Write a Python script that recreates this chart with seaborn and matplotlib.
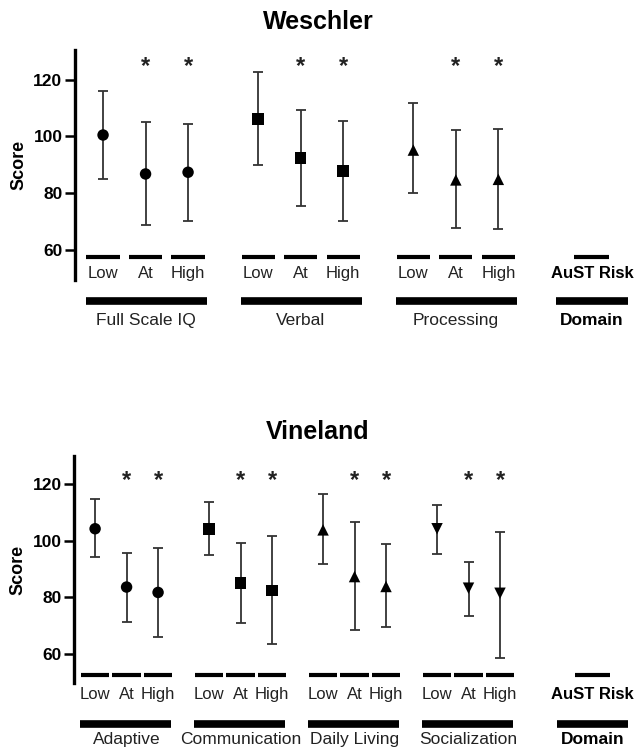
import numpy as np
import pandas as pd
import seaborn as sns
import matplotlib.pyplot as plt

# ---- data ----
risk_levels = ["Low", "At", "High"]

weschler_domains = ["Full Scale IQ", "Verbal", "Processing"]
weschler_mean = [100.5, 86.8, 87.4, 106.2, 92.4, 87.8, 95.2, 84.7, 84.9]
weschler_upper = [116.1, 105.0, 104.5, 122.6, 109.4, 105.6, 111.7, 102.4, 102.7]
weschler_lower = [85.0, 68.9, 70.1, 90.1, 75.6, 70.4, 80.0, 67.7, 67.4]
weschler_signif = [False, True, True, False, True, True, False, True, True]

vineland_domains = ["Adaptive", "Communication", "Daily Living", "Socialization"]
vineland_mean = [104.2, 83.6, 81.7, 104.1, 85.0, 82.4, 103.8, 87.3, 83.8, 104.2, 83.2, 81.4]
vineland_upper = [114.7, 95.8, 97.4, 113.5, 99.1, 101.7, 116.3, 106.7, 98.8, 112.7, 92.4, 103.0]
vineland_lower = [94.2, 71.2, 65.9, 95.0, 71.0, 63.4, 91.9, 68.5, 69.6, 95.4, 73.5, 58.7]
vineland_signif = [False, True, True, False, True, True, False, True, True, False, True, True]

sns.set_style("ticks")
plt.rcParams["font.family"] = ["Liberation Sans", "DejaVu Sans"]
plt.rcParams["text.color"] = "black"
plt.rcParams["axes.labelcolor"] = "black"
plt.rcParams["ytick.color"] = "black"


def make_frame(domains, mean, lower, upper, signif, gap):
    rows = []
    for g, dom in enumerate(domains):
        for i, lev in enumerate(risk_levels):
            k = g * 3 + i
            rows.append({"domain": dom, "level": lev, "x": g * gap + i,
                         "group_x": g * gap, "mean": mean[k], "lower": lower[k],
                         "upper": upper[k], "signif": signif[k]})
    return pd.DataFrame(rows)


def draw_panel(ax, df, markers, gap, lay):
    ax.errorbar(df["x"], df["mean"],
                yerr=[df["mean"] - df["lower"], df["upper"] - df["mean"]],
                fmt="none", ecolor="#333333", elinewidth=1.3, capsize=3.6,
                capthick=1.3, zorder=2)
    sns.scatterplot(data=df, x="x", y="mean", style="domain", markers=markers,
                    color="black", s=68, edgecolor="black", linewidth=0,
                    legend=False, ax=ax, zorder=3)

    for _, r in df.iterrows():
        if r["signif"]:
            ax.text(r["x"], lay["star_y"], "*", ha="center", va="center",
                    fontsize=17, fontweight="bold", color="#222222", clip_on=False)
        ax.plot([r["x"] - lay["dash_w"], r["x"] + lay["dash_w"]],
                [lay["dash_y"]] * 2, color="black", lw=3, solid_capstyle="butt",
                clip_on=False)
        ax.text(r["x"], lay["lev_y"], r["level"], ha="center", va="center",
                fontsize=12, color="#222222", clip_on=False)

    for dom, sub in df.groupby("domain", sort=False):
        x0 = sub["group_x"].iloc[0]
        ax.plot([x0 + lay["bar_l"], x0 + 2 + lay["bar_r"]], [lay["bar_y"]] * 2,
                color="black", lw=5.5, solid_capstyle="butt", clip_on=False)
        ax.text(x0 + 1, lay["dom_y"], dom, ha="center", va="center",
                fontsize=12.5, color="#222222", clip_on=False)

    # AuST risk / Domain key column
    kx = lay["key_x"]
    ax.plot([kx - lay["key_dash"], kx + lay["key_dash"]], [lay["dash_y"]] * 2,
            color="black", lw=3, solid_capstyle="butt", clip_on=False)
    ax.text(kx, lay["lev_y"], "AuST Risk", ha="center", va="center",
            fontsize=12, fontweight="bold", clip_on=False)
    ax.plot([kx - lay["key_bar"], kx + lay["key_bar"]], [lay["bar_y"]] * 2,
            color="black", lw=5.5, solid_capstyle="butt", clip_on=False)
    ax.text(kx, lay["dom_y"], "Domain", ha="center", va="center",
            fontsize=12.5, fontweight="bold", clip_on=False)

    ax.set_xlim(lay["xlim"])
    ax.set_ylim(lay["ylim"])
    ax.set_yticks([60, 80, 100, 120])
    ax.set_xticks([])
    ax.set_xlabel("")
    ax.set_ylabel("Score", fontsize=13, fontweight="bold", labelpad=4)
    for s in ["top", "right", "bottom"]:
        ax.spines[s].set_visible(False)
    ax.spines["left"].set_linewidth(2.4)
    ax.spines["left"].set_color("black")
    ax.tick_params(axis="y", length=7, width=1.8, labelsize=12.5, pad=2,
                   color="black", labelcolor="black")
    for t in ax.get_yticklabels():
        t.set_fontweight("bold")


W, H = 635, 750
fig = plt.figure(figsize=(W / 100, H / 100), dpi=100)

# Weschler panel
gap_w = 3.65
ax1 = fig.add_axes([75 / W, 1 - 280 / H, 550 / W, 230 / H])
dfw = make_frame(weschler_domains, weschler_mean, weschler_lower, weschler_upper,
                 weschler_signif, gap_w)
draw_panel(ax1, dfw, ["o", "s", "^"], gap_w, {
    "star_y": 124.6, "dash_y": 57.7, "dash_w": 0.39, "lev_y": 51.8,
    "bar_y": 42.2, "bar_l": -0.4, "bar_r": 0.45, "dom_y": 35.4,
    "key_x": 11.5, "key_dash": 0.41, "key_bar": 0.84,
    "xlim": (-0.66, 12.28), "ylim": (49.5, 130.4)})
fig.text(318 / W, 1 - 22 / H, "Weschler", ha="center", va="center",
         fontsize=18, fontweight="bold")

# Vineland panel
gap_v = 3.62
ax2 = fig.add_axes([74 / W, 1 - 683 / H, 551 / W, 227 / H])
dfv = make_frame(vineland_domains, vineland_mean, vineland_lower, vineland_upper,
                 vineland_signif, gap_v)
draw_panel(ax2, dfv, ["o", "s", "^", "v"], gap_v, {
    "star_y": 121.4, "dash_y": 52.5, "dash_w": 0.45, "lev_y": 45.5,
    "bar_y": 35.1, "bar_l": -0.48, "bar_r": 0.4, "dom_y": 29.6,
    "key_x": 15.8, "key_dash": 0.56, "key_bar": 1.13,
    "xlim": (-0.67, 16.83), "ylim": (49.7, 129.9)})
fig.text(318 / W, 1 - 432 / H, "Vineland", ha="center", va="center",
         fontsize=18, fontweight="bold")

fig.savefig("out.png", dpi=100, facecolor="white")
